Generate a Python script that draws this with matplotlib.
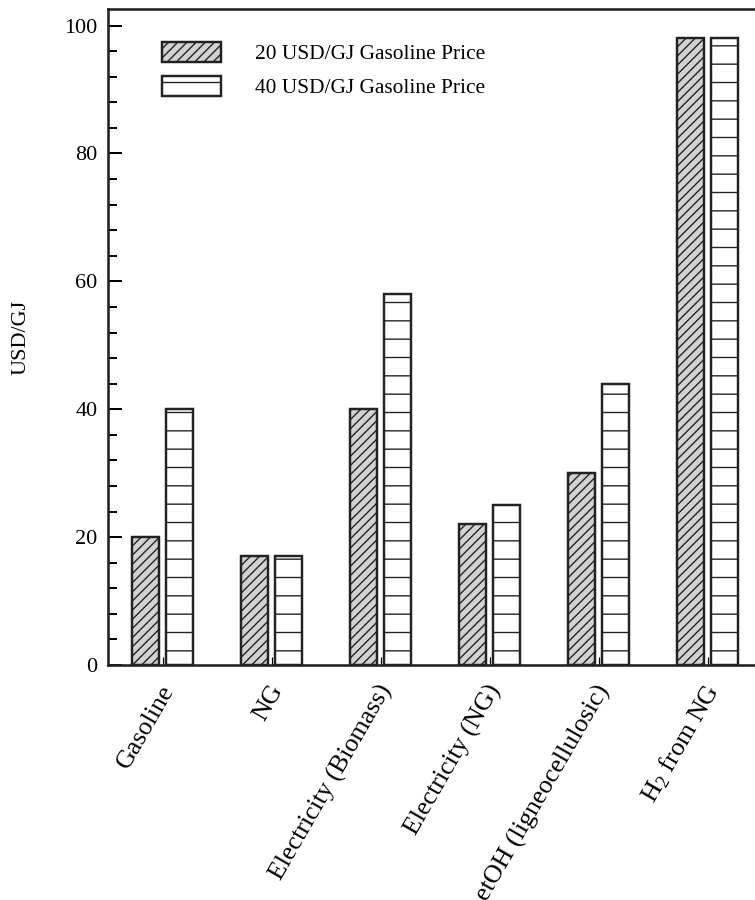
import numpy as np
import matplotlib
matplotlib.use("Agg")
import matplotlib.pyplot as plt
import matplotlib.transforms as mtransforms
from matplotlib.ticker import MultipleLocator

categories = ["Gasoline", "NG", "Electricity (Biomass)", "Electricity (NG)",
              "etOH (ligneocellulosic)", r"H$_\mathregular{2}$ from NG"]
price_20 = [20, 17, 40, 22, 30, 98]
price_40 = [40, 17, 58, 25, 44, 98]
series_labels = ["20 USD/GJ Gasoline Price", "40 USD/GJ Gasoline Price"]

plt.rcParams["font.family"] = ["Liberation Serif", "DejaVu Serif"]
plt.rcParams["mathtext.fontset"] = "stix"
plt.rcParams["hatch.linewidth"] = 0.9
plt.rcParams["hatch.color"] = "#222222"

dpi = 110
fig = plt.figure(figsize=(755 / dpi, 900 / dpi), dpi=dpi)
ax = fig.add_axes([108 / 755, 235 / 900, 654.5 / 755, 656 / 900])

x = np.arange(len(categories))
w = 0.245
ax.bar(x - 0.158, price_20, w, facecolor="#d2d2d2", edgecolor="#222222",
       linewidth=1.6, hatch="////", label=series_labels[0])
ax.bar(x + 0.152, price_40, w, facecolor="white", edgecolor="#222222",
       linewidth=1.6, hatch="-", label=series_labels[1])

ax.set_xlim(-0.505, 5.5)
ax.set_ylim(0, 102.6)

for side in ["top", "left", "bottom"]:
    ax.spines[side].set_linewidth(1.7)
    ax.spines[side].set_color("#222222")
ax.spines["right"].set_visible(False)

ax.yaxis.set_major_locator(MultipleLocator(20))
ax.yaxis.set_minor_locator(MultipleLocator(4))
ax.tick_params(axis="y", which="major", direction="in", length=9, width=1.3,
               pad=7, labelsize=14.5)
ax.tick_params(axis="y", which="minor", direction="in", length=6, width=1.3)
ax.tick_params(axis="x", direction="in", length=5, width=0.8, pad=14,
               labelsize=17)

ax.set_xticks(x)
ax.set_xticklabels(categories, rotation=60, ha="right", va="center",
                   rotation_mode="anchor")
# nudge the slanted labels to the right of their ticks
shift = mtransforms.ScaledTranslation(4 / 72, 0, fig.dpi_scale_trans)
for lbl in ax.get_xticklabels():
    lbl.set_transform(lbl.get_transform() + shift)

ax.set_ylabel("USD/GJ", fontsize=14.5, labelpad=22)

ax.legend(loc="upper left", bbox_to_anchor=(54 / 654.5, 623 / 656),
          frameon=False, fontsize=14, borderpad=0, borderaxespad=0,
          handlelength=2.75, handleheight=1.05, labelspacing=0.55,
          handletextpad=1.6)

fig.savefig("out.png", dpi=dpi)
